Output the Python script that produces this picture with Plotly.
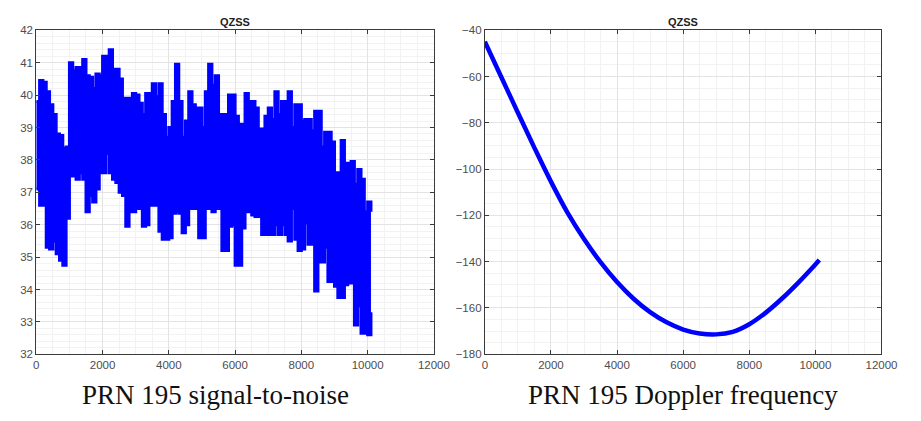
import plotly.graph_objects as go

# ---- data ----
snr_x = list(range(0, 10200, 100))
snr_hi = [39.8, 40.45, 40.4, 40.1, 39.7, 39.4, 38.8, 38.75, 38.35, 38.4,
          41.0, 40.75, 40.85, 40.85, 41.1, 40.6, 40.55, 40.2, 40.65, 40.6,
          41.2, 41.2, 41.4, 40.8, 40.8, 40.5, 39.9, 39.9, 39.9, 40.05,
          40.0, 39.75, 39.4, 40.05, 40.05, 40.35, 39.95, 40.35, 39.4, 38.7,
          39.0, 39.8, 40.95, 39.8, 38.7, 39.2, 40.1, 39.7, 39.6, 39.6,
          39.0, 40.1, 40.95, 40.3, 40.6, 39.4, 39.4, 39.4, 40.0, 40.0,
          39.35, 39.1, 39.1, 40.05, 39.8, 39.8, 39.6, 38.95, 38.95, 39.35,
          39.6, 39.25, 40.1, 39.4, 39.8, 39.8, 40.1, 39.0, 39.7, 39.7,
          39.2, 39.25, 39.25, 38.9, 39.5, 39.5, 38.4, 38.85, 38.85, 38.55,
          37.6, 37.6, 38.6, 37.9, 37.9, 37.95, 37.25, 37.7, 37.4, 36.4,
          36.7, 36.4]
snr_lo = [37.1, 36.6, 36.6, 35.3, 35.25, 35.5, 35.1, 34.9, 34.75, 36.2,
          37.5, 37.5, 37.4, 37.6, 37.4, 36.4, 36.9, 36.7, 37.1, 37.6,
          37.6, 38.2, 37.6, 37.4, 37.3, 37.0, 36.9, 35.95, 36.4, 36.4,
          36.5, 36.5, 35.95, 36.0, 36.6, 36.6, 36.6, 35.8, 35.55, 35.55,
          35.6, 36.35, 36.4, 36.35, 35.75, 36.0, 36.5, 36.5, 36.5, 35.6,
          35.6, 36.5, 36.5, 36.4, 36.5, 36.5, 35.2, 35.2, 35.95, 36.0,
          34.75, 34.75, 35.9, 36.4, 36.4, 36.3, 36.25, 36.25, 35.7, 35.7,
          35.7, 35.7, 36.0, 35.7, 36.0, 35.7, 35.5, 36.5, 35.55, 35.2,
          35.25, 36.05, 35.4, 35.4, 33.95, 34.85, 34.85, 35.3, 34.25, 34.25,
          34.1, 33.75, 33.75, 34.15, 34.2, 34.2, 32.9, 33.5, 32.65, 32.65,
          32.6, 33.3]

dop_x = [0, 500, 1000, 1500, 2000, 2500, 3000, 3500, 4000, 4500, 5000, 5500,
         6000, 6500, 7000, 7500, 8000, 8500, 9000, 9500, 10000, 10120]
dop_y = [-44.9, -60.3, -75.6, -90.8, -105.4, -118.8, -130.2, -140.2, -148.8,
         -156.0, -161.8, -166.2, -169.3, -171.0, -171.4, -170.3, -167.0,
         -162.0, -155.8, -148.8, -141.2, -139.3]

titles = ["QZSS", "QZSS"]
captions = ["PRN 195 signal-to-noise", "PRN 195 Doppler frequency"]

blue = "#0000ff"
fig = go.Figure()
# dense noisy SNR trace: filled band between read upper/lower envelopes
fig.add_trace(go.Scatter(x=snr_x, y=snr_hi, mode="lines",
                         line=dict(color=blue, width=3, shape="hv", simplify=False),
                         xaxis="x", yaxis="y", showlegend=False))
fig.add_trace(go.Scatter(x=snr_x, y=snr_lo, mode="lines", fill="tonexty", fillcolor=blue,
                         line=dict(color=blue, width=3, shape="hv", simplify=False),
                         xaxis="x", yaxis="y", showlegend=False))
fig.add_trace(go.Scatter(x=dop_x, y=dop_y, mode="lines", line=dict(color=blue, width=4.5, shape="spline"),
                         xaxis="x2", yaxis="y2", showlegend=False))

W, H = 921, 421
top, bot = 1 - 25 / H, 1 - 358.5 / H
tickfont = dict(family="Liberation Sans, Arial", size=11.5, color="#4d4d4d")
axcommon = dict(showline=True, linecolor="#3a3a3a", linewidth=1, mirror="ticks",
                ticks="inside", ticklen=4, tickcolor="#3a3a3a", tickfont=tickfont,
                showgrid=True, gridcolor="#e3e3e3", gridwidth=1, zeroline=False,
                exponentformat="none", separatethousands=False, tickformat="d",
                minor=dict(showgrid=True, gridcolor="#f2f2f2", gridwidth=1, nticks=5))

fig.update_layout(
    width=W, height=H, margin=dict(l=0, r=0, t=0, b=0),
    paper_bgcolor="white", plot_bgcolor="white",
    xaxis=dict(domain=[34 / W, 440 / W], range=[0, 12000], dtick=2000, anchor="y", **axcommon),
    yaxis=dict(domain=[bot, top], range=[32, 42], dtick=1, anchor="x", **axcommon),
    xaxis2=dict(domain=[492 / W, 897 / W], range=[0, 12000], dtick=2000, anchor="y2", **axcommon),
    yaxis2=dict(domain=[bot, top], range=[-180, -40], dtick=20, anchor="x2", **axcommon),
)

for cx, txt in zip([(34 + 440) / 2 / W, (492 + 897) / 2 / W], titles):
    fig.add_annotation(x=cx, y=1 - 16 / H, xref="paper", yref="paper", text="<b>%s</b>" % txt,
                       xanchor="center", yanchor="middle", showarrow=False,
                       font=dict(family="Liberation Sans, Arial", size=11, color="#222"))
for cx, txt in zip([217 / W, 694 / W], captions):
    fig.add_annotation(x=cx, y=1 - 400 / H, xref="paper", yref="paper", text=txt,
                       xanchor="center", yanchor="middle", showarrow=False,
                       font=dict(family="Liberation Serif, Times New Roman", size=27, color="#111"))

fig.write_html("out.html")
